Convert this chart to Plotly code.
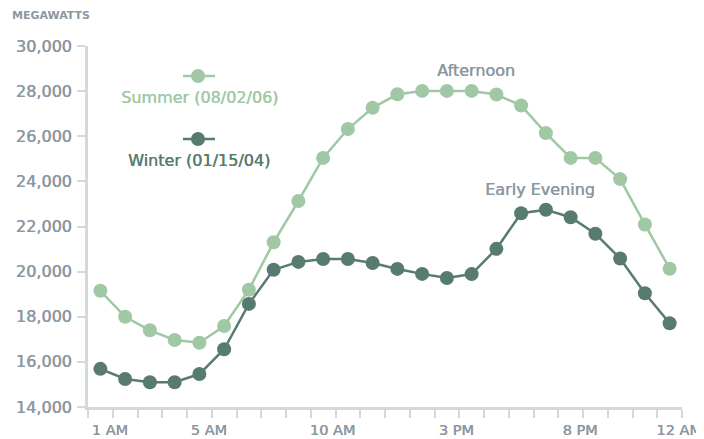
import plotly.graph_objects as go

hours = [1, 2, 3, 4, 5, 6, 7, 8, 9, 10, 11, 12, 13, 14, 15, 16, 17, 18, 19, 20, 21, 22, 23, 24]
summer = [19150, 18000, 17400, 16970, 16850, 17590, 19200, 21300, 23130, 25040, 26320, 27260,
          27860, 28010, 28010, 28010, 27850, 27360, 26140, 25040, 25040, 24100, 22090, 20130]
winter = [15690, 15240, 15100, 15100, 15460, 16560, 18570, 20080, 20430, 20560, 20560, 20380,
          20120, 19900, 19720, 19890, 21010, 22590, 22740, 22410, 21680, 20580, 19040, 17710]
tick_pos = [1.5, 5.5, 10.5, 15.5, 20.5, 24.5]
tick_text = ["1 AM", "5 AM", "10 AM", "3 PM", "8 PM", "12 AM"]

SUMMER = "#a0c8a4"
WINTER = "#587b71"
GRAY = "#8b97a1"
AXIS = "#d2d8dc"
FONT = "DejaVu Sans"


def heavy(color):
    return "0.45px 0px 0px " + color


fig = go.Figure()
fig.add_trace(go.Scatter(x=hours, y=summer, mode="lines+markers", name="Summer (08/02/06)",
                         line=dict(color=SUMMER, width=2.5), marker=dict(size=14, color=SUMMER),
                         cliponaxis=False))
fig.add_trace(go.Scatter(x=hours, y=winter, mode="lines+markers", name="Winter (01/15/04)",
                         line=dict(color=WINTER, width=2.5), marker=dict(size=14, color=WINTER),
                         cliponaxis=False))

# page body has an 8px margin, so the figure is drawn from (8, 8)
fig.update_layout(
    width=696, height=431,
    margin=dict(l=80, r=22, t=38, b=32, autoexpand=False),
    paper_bgcolor="white", plot_bgcolor="white",
    showlegend=False,
    font=dict(family=FONT, color=GRAY),
    xaxis=dict(range=[0.5, 24.5], tickvals=tick_pos, ticktext=tick_text, automargin=False,
               ticklabeloverflow="allow", ticklabelshift=-3,
               showgrid=False, zeroline=False, showline=True, linecolor=AXIS, linewidth=3,
               ticks="outside", ticklen=8, tickwidth=2, tickcolor=AXIS,
               tickfont=dict(size=14.5, color=GRAY, family=FONT, shadow=heavy(GRAY)),
               minor=dict(ticks="outside", ticklen=8, tickwidth=2, tickcolor=AXIS, dtick=1, tick0=0.5)),
    yaxis=dict(range=[14000, 30000], dtick=2000, tickformat=",", automargin=False,
               ticklabeloverflow="allow", ticklabelstandoff=2,
               showgrid=False, zeroline=False, showline=True, linecolor=AXIS, linewidth=3,
               ticks="outside", ticklen=8, tickwidth=2, tickcolor=AXIS,
               tickfont=dict(size=16, color=GRAY, family=FONT, shadow=heavy(GRAY))),
)

# custom legend (positions in screen pixels mapped to the plot area)
def px(x):
    return (x - 88) / 594

def py(y):
    return (407 - y) / 361

for color, ly, ty, label in [(SUMMER, 76, 98, "Summer (08/02/06)"), (WINTER, 139, 160, "Winter (01/15/04)")]:
    fig.add_shape(type="line", xref="paper", yref="paper", x0=px(183), x1=px(215), y0=py(ly), y1=py(ly),
                  line=dict(color=color, width=2.5))
    fig.add_shape(type="circle", xref="paper", yref="paper", xsizemode="pixel", ysizemode="pixel",
                  xanchor=px(198), yanchor=py(ly), x0=-7, x1=7, y0=-7, y1=7,
                  fillcolor=color, line=dict(color=color, width=0))
    fig.add_annotation(xref="paper", yref="paper", x=px(199), y=py(ty), text=label, showarrow=False,
                       font=dict(size=16, color=color, family=FONT, shadow=heavy(color)),
                       xanchor="center", yanchor="middle")

fig.add_annotation(xref="paper", yref="paper", x=px(476), y=py(70), text="Afternoon", showarrow=False,
                   font=dict(size=16, color=GRAY, family=FONT, shadow=heavy(GRAY)),
                   xanchor="center", yanchor="middle")
fig.add_annotation(xref="paper", yref="paper", x=px(540), y=py(189), text="Early Evening", showarrow=False,
                   font=dict(size=16, color=GRAY, family=FONT, shadow=heavy(GRAY)),
                   xanchor="center", yanchor="middle")
fig.add_annotation(xref="paper", yref="paper", x=px(10), y=py(16), text="MEGAWATTS", showarrow=False,
                   font=dict(size=11, color=GRAY, family=FONT, weight="bold"), xanchor="left", yanchor="middle")

fig.write_html("out.html")
